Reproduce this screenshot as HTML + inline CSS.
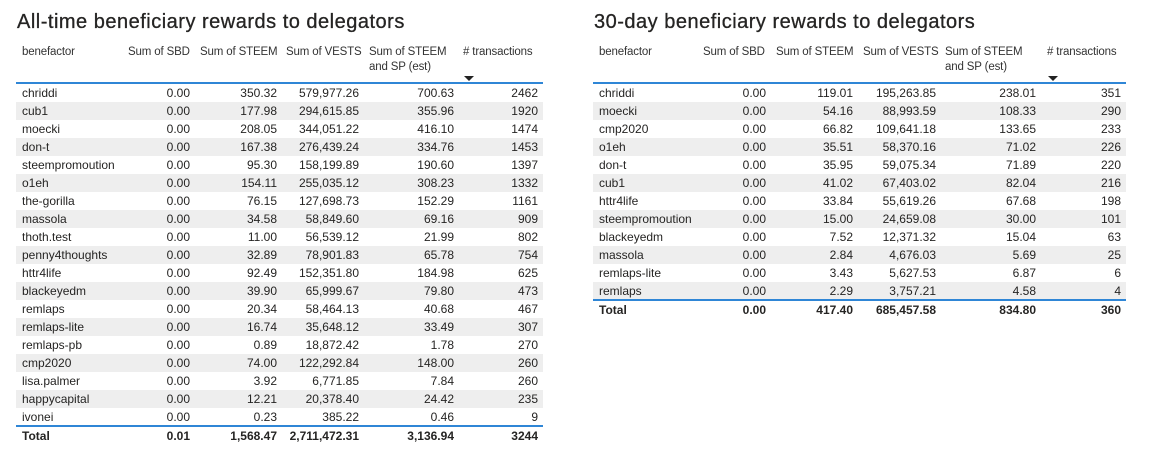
<!DOCTYPE html>
<html><head><meta charset="utf-8">
<style>
body{margin:0;width:1174px;height:464px;background:#fff;position:relative;overflow:hidden;font-family:"Liberation Sans",sans-serif;color:#252423}
.t{position:absolute;font-size:20px;letter-spacing:0.5px;color:#252423;white-space:nowrap;-webkit-text-stroke:0.3px #252423}
.c{position:absolute;font-size:12px;white-space:nowrap;line-height:18px}
.h{position:absolute;font-size:11.5px;letter-spacing:-0.15px;line-height:15px;color:#333}
.row{position:absolute;height:18px}
.line{position:absolute;height:2px;background:#2f86d6}
.arrow{position:absolute;width:0;height:0;border-left:5px solid transparent;border-right:5px solid transparent;border-top:5px solid #222}
</style></head>
<body>
<script>
const allNames=["chriddi","cub1","moecki","don-t","steempromoution","o1eh","the-gorilla","massola","thoth.test","penny4thoughts","httr4life","blackeyedm","remlaps","remlaps-lite","remlaps-pb","cmp2020","lisa.palmer","happycapital","ivonei"];
const allSBD=["0.00","0.00","0.00","0.00","0.00","0.00","0.00","0.00","0.00","0.00","0.00","0.00","0.00","0.00","0.00","0.00","0.00","0.00","0.00"];
const allSTEEM=["350.32","177.98","208.05","167.38","95.30","154.11","76.15","34.58","11.00","32.89","92.49","39.90","20.34","16.74","0.89","74.00","3.92","12.21","0.23"];
const allVESTS=["579,977.26","294,615.85","344,051.22","276,439.24","158,199.89","255,035.12","127,698.73","58,849.60","56,539.12","78,901.83","152,351.80","65,999.67","58,464.13","35,648.12","18,872.42","122,292.84","6,771.85","20,378.40","385.22"];
const allSP=["700.63","355.96","416.10","334.76","190.60","308.23","152.29","69.16","21.99","65.78","184.98","79.80","40.68","33.49","1.78","148.00","7.84","24.42","0.46"];
const allTX=["2462","1920","1474","1453","1397","1332","1161","909","802","754","625","473","467","307","270","260","260","235","9"];
const allTotal=["Total","0.01","1,568.47","2,711,472.31","3,136.94","3244"];

const d30Names=["chriddi","moecki","cmp2020","o1eh","don-t","cub1","httr4life","steempromoution","blackeyedm","massola","remlaps-lite","remlaps"];
const d30SBD=["0.00","0.00","0.00","0.00","0.00","0.00","0.00","0.00","0.00","0.00","0.00","0.00"];
const d30STEEM=["119.01","54.16","66.82","35.51","35.95","41.02","33.84","15.00","7.52","2.84","3.43","2.29"];
const d30VESTS=["195,263.85","88,993.59","109,641.18","58,370.16","59,075.34","67,403.02","55,619.26","24,659.08","12,371.32","4,676.03","5,627.53","3,757.21"];
const d30SP=["238.01","108.33","133.65","71.02","71.89","82.04","67.68","30.00","15.04","5.69","6.87","4.58"];
const d30TX=["351","290","233","226","220","216","198","101","63","25","6","4"];
const d30Total=["Total","0.00","417.40","685,457.58","834.80","360"];

function el(cls,name,css,txt){const e=document.createElement('div');e.className=cls;Object.assign(e.style,css);if(txt!==undefined)e.textContent=txt;


document.body.appendChild(e);return e;}

function table(prefix,title,x0,x1,nameX,rights,hdrX,cols,total){
  el('t',prefix+'-title',{left:(x0+1)+'px',top:'11px'},title);
  const hdr=["benefactor","Sum of SBD","Sum of STEEM","Sum of VESTS","Sum of STEEM\nand SP (est)","# transactions"];
  hdr.forEach((h,i)=>{const e=el('h',prefix+'-header-'+i,{left:hdrX[i]+'px',top:'45px',whiteSpace:'pre'},h);
    });
  el('arrow',prefix+'-sort-arrow',{left:(hdrX[5]+1)+'px',top:'76px'});
  el('line',prefix+'-header-line',{left:x0+'px',top:'82px',width:(x1-x0)+'px'});
  const n=cols[0].length;
  for(let r=0;r<n;r++){
    const top=84+r*18;
    el('row',prefix+'-row-'+cols[0][r],{left:x0+'px',top:top+'px',width:(x1-x0)+'px',background:r%2?'#eeeeee':'#fff'});
    el('c',prefix+'-cell-name',{left:nameX+'px',top:top+'px'},cols[0][r]);
    for(let c=1;c<6;c++){
      el('c',prefix+'-cell',{right:(1174-rights[c-1])+'px',top:top+'px'},cols[c][r]);
    }
  }
  const ty=84+n*18;
  el('line',prefix+'-total-line',{left:x0+'px',top:(ty-1)+'px',width:(x1-x0)+'px'});
  el('c',prefix+'-total-label',{left:nameX+'px',top:(ty+1)+'px',fontWeight:'bold'},total[0]);
  for(let c=1;c<6;c++) el('c',prefix+'-total-cell',{right:(1174-rights[c-1])+'px',top:(ty+1)+'px',fontWeight:'bold'},total[c]);
}
table('all-time','All-time beneficiary rewards to delegators',16,543,22,[190,277,359,454,538],[22,128,200,286,369,463],
 [allNames,allSBD,allSTEEM,allVESTS,allSP,allTX],allTotal);
table('30-day','30-day beneficiary rewards to delegators',593,1126,599,[766,853,936,1036,1121],[599,703,776,863,945,1047],
 [d30Names,d30SBD,d30STEEM,d30VESTS,d30SP,d30TX],d30Total);
</script>
</body></html>
